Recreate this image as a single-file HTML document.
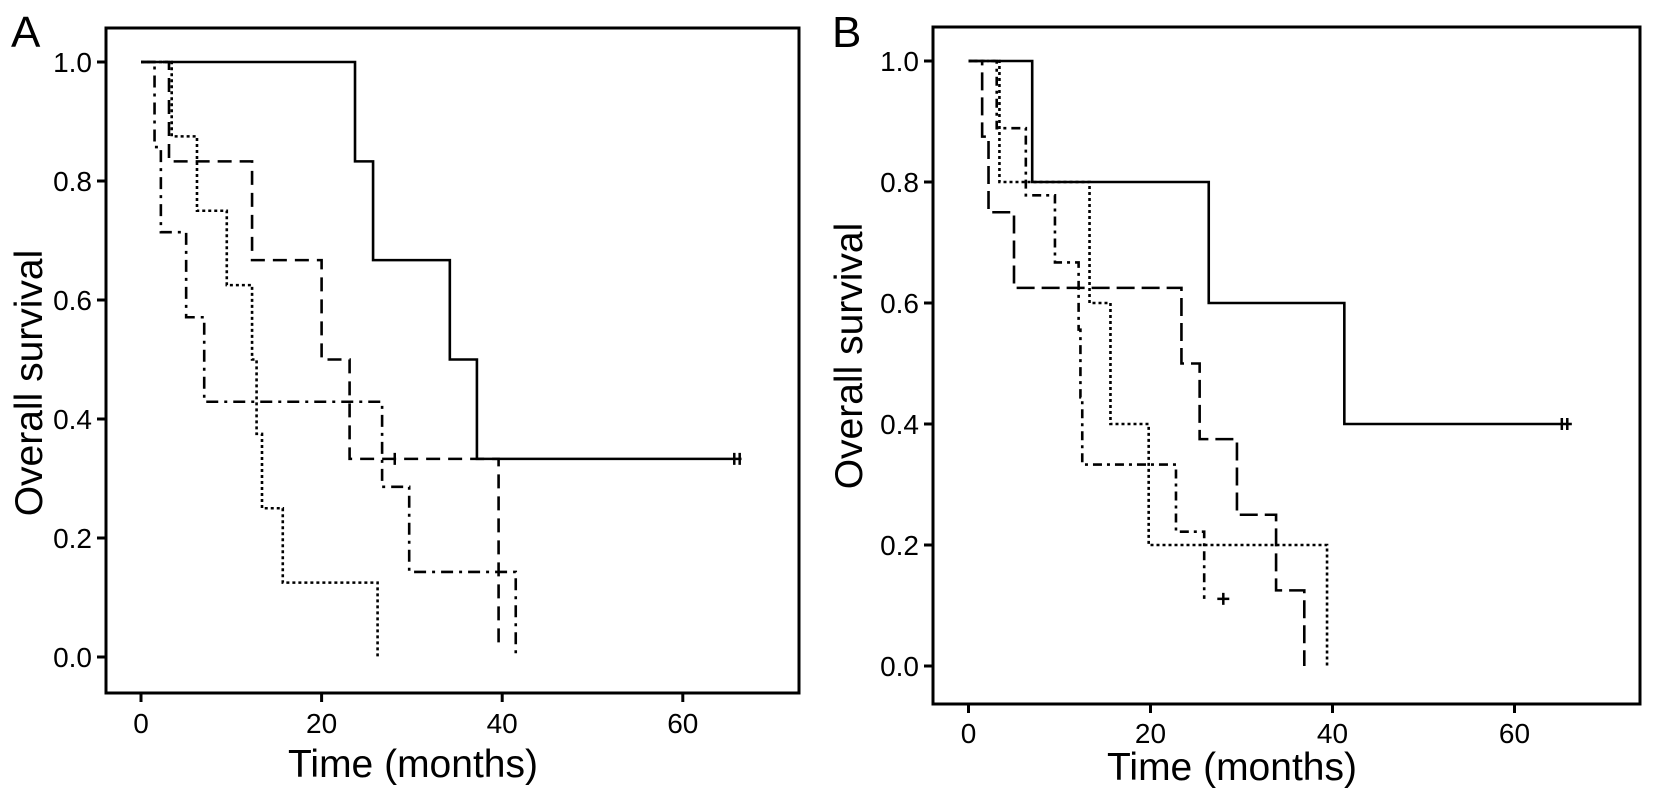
<!DOCTYPE html>
<html><head><meta charset="utf-8"><style>
html,body{margin:0;padding:0;background:#fff;}
svg{display:block;font-family:"Liberation Sans",Arial,sans-serif;}
</style></head><body>
<svg id="chart" width="1654" height="796" viewBox="0 0 1654 796"></svg>
<script>
// Panel A data (time in months, survival after each drop)
const aSolidT=[23.7,25.7,34.2,37.2];
const aSolidS=[0.833,0.667,0.5,0.333];
const aSolidEnd=66.5;
const aSolidCens=[65.7,66.3];
const aDashT=[3.1,12.3,20.0,23.1,39.6];
const aDashS=[0.833,0.667,0.5,0.333,0.02];
const aDashEnd=39.6;
const aDashCens=[28.1];
const aDashDotT=[1.5,2.2,5.0,7.0,26.7,29.7,41.5];
const aDashDotS=[0.857,0.714,0.571,0.429,0.286,0.143,0.0];
const aDashDotEnd=41.5;
const aDotT=[3.4,6.2,9.5,12.3,12.8,13.4,15.7,26.2];
const aDotS=[0.875,0.75,0.625,0.5,0.375,0.25,0.125,0.0];
const aDotEnd=26.2;
// Panel B data
const bSolidT=[7.0,26.4,41.3];
const bSolidS=[0.8,0.6,0.4];
const bSolidEnd=66.3;
const bSolidCens=[65.2,65.8];
const bLongT=[1.5,2.2,5.0,23.4,25.4,29.5,33.8,36.9];
const bLongS=[0.875,0.75,0.625,0.5,0.375,0.25,0.125,0.0];
const bLongEnd=36.9;
const bDashDotT=[3.1,6.3,9.5,12.1,12.3,12.5,22.8,25.9];
const bDashDotS=[0.889,0.778,0.667,0.556,0.444,0.333,0.222,0.111];
const bDashDotEnd=25.9;
const bDashDotCens=[28.0];
const bDotT=[3.4,13.3,15.6,19.8,39.4];
const bDotS=[0.8,0.6,0.4,0.2,0.0];
const bDotEnd=39.4;
const xTicks=[0,20,40,60];
const yTicks=[0,0.2,0.4,0.6,0.8,1.0];

const NS="http://www.w3.org/2000/svg";
const svg=document.getElementById('chart');
function mk(tag,attrs,parent){const e=document.createElementNS(NS,tag);for(const k in attrs)e.setAttribute(k,attrs[k]);(parent||svg).appendChild(e);return e;}

function panel(p){
  const g=mk('g',{});
  
  
  const X=t=>p.x0+t*p.px;
  const Y=s=>p.y0-s*(p.y0-p.y1);
  const box=mk('rect',{x:p.L,y:p.T,width:p.R-p.L,height:p.B-p.T,fill:'none',stroke:'#000','stroke-width':3},g);
  
  
  yTicks.forEach(v=>{
    const l=mk('line',{x1:p.L-9,x2:p.L,y1:Y(v),y2:Y(v),stroke:'#000','stroke-width':3},g);
    
    
    const t=mk('text',{x:p.L-14,y:Y(v)+10,'text-anchor':'end','font-size':28},g);
    t.textContent=v.toFixed(1);
    
    
  });
  xTicks.forEach(v=>{
    const l=mk('line',{x1:X(v),x2:X(v),y1:p.B,y2:p.B+9,stroke:'#000','stroke-width':3},g);
    
    
    const t=mk('text',{x:X(v),y:p.xl,'text-anchor':'middle','font-size':28},g);
    t.textContent=v;
    
    
  });
  const xt=mk('text',{x:p.xtc,y:p.xty,'text-anchor':'middle','font-size':39},g);
  xt.textContent='Time (months)';
  
  
  const yc=p.ytc;
  const yt=mk('text',{x:p.ytx,y:yc,'text-anchor':'middle','font-size':39,transform:`rotate(-90 ${p.ytx} ${yc})`},g);
  yt.textContent='Overall survival';
  
  
  const lt=mk('text',{x:p.lx,y:47,'font-size':44},g);
  lt.textContent=p.letter;
  
  
  p.series.forEach(s=>{
    let d=`M${X(0)},${Y(1)}`;
    s.t.forEach((t,i)=>{d+=` H${X(t)} V${Y(s.s[i])}`;});
    d+=` H${X(s.end)}`;
    const path=mk('path',{d:d,fill:'none',stroke:'#000','stroke-width':2.6,'stroke-dasharray':s.dash},g);
    
    
    (s.cens||[]).forEach(c=>{
      let lvl=1;
      s.t.forEach((t,i)=>{if(t<=c)lvl=s.s[i];});
      const m=mk('line',{x1:X(c),x2:X(c),y1:Y(lvl)-6,y2:Y(lvl)+6,stroke:'#000','stroke-width':2.5},g);
      
      
      if(c>s.end){
        const h=mk('line',{x1:X(c)-6,x2:X(c)+6,y1:Y(lvl),y2:Y(lvl),stroke:'#000','stroke-width':2.5},g);
        
        
      }
    });
  });
}
panel({name:'panel-a',letter:'A',lx:11,L:106,R:799,T:28,B:693,x0:141,px:9.03,y0:657,y1:62,xl:733,xtc:413,xty:777,ytx:42,ytc:383,
  series:[
   {name:'a-solid-curve',t:aSolidT,s:aSolidS,end:aSolidEnd,cens:aSolidCens,dash:'none'},
   {name:'a-dashed-curve',t:aDashT,s:aDashS,end:aDashEnd,cens:aDashCens,dash:'14,8'},
   {name:'a-dashdot-curve',t:aDashDotT,s:aDashDotS,end:aDashDotEnd,dash:'12,6,3,6'},
   {name:'a-dotted-curve',t:aDotT,s:aDotS,end:aDotEnd,dash:'3,3'}
  ]});
panel({name:'panel-b',letter:'B',lx:832,L:933,R:1640,T:27,B:704,x0:968.5,px:9.1,y0:666,y1:61,xl:743,xtc:1232,xty:780,ytx:862,ytc:356,
  series:[
   {name:'b-solid-curve',t:bSolidT,s:bSolidS,end:bSolidEnd,cens:bSolidCens,dash:'none'},
   {name:'b-longdash-curve',t:bLongT,s:bLongS,end:bLongEnd,dash:'18,7'},
   {name:'b-dashdot-curve',t:bDashDotT,s:bDashDotS,end:bDashDotEnd,cens:bDashDotCens,dash:'9,5,3,5'},
   {name:'b-dotted-curve',t:bDotT,s:bDotS,end:bDotEnd,dash:'3,3'}
  ]});
</script>
</body></html>
